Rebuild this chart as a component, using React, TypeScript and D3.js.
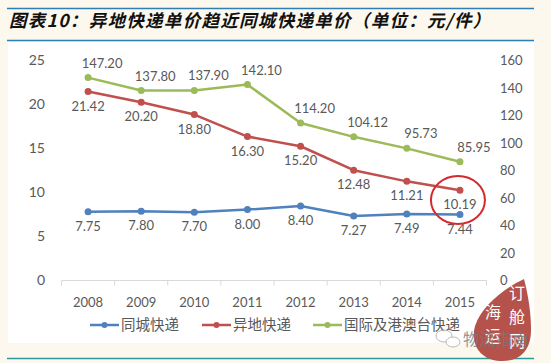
import * as d3 from "d3";

const years = ["2008", "2009", "2010", "2011", "2012", "2013", "2014", "2015"];
const sameCity = [7.75, 7.8, 7.7, 8.0, 8.4, 7.27, 7.49, 7.44];
const crossCity = [21.42, 20.2, 18.8, 16.3, 15.2, 12.48, 11.21, 10.19];
const intl = [147.2, 137.8, 137.9, 142.1, 114.2, 104.12, 95.73, 85.95];
const leftTicks = [0, 5, 10, 15, 20, 25];
const rightTicks = [0, 20, 40, 60, 80, 100, 120, 140, 160];
const seriesNames = ["同城快递", "异地快递", "国际及港澳台快递"];
const title = "图表10：异地快递单价趋近同城快递单价（单位：元/件）";
const stampRight = ["订", "舱", "网"];
const stampLeft = ["海", "运"];

const W = 551;
const H = 363;
const BLUE = "#4f81bd";
const RED = "#c0504d";
const GREEN = "#9bbb59";
const TXT = "#595959";
const numFont = "Lato, 'Open Sans', sans-serif";
const cjkFont = "'Noto Sans CJK SC', sans-serif";

export default function App() {
  const x = d3.scaleBand().domain(years).range([61.5, 486.5]);
  const yL = d3.scaleLinear().domain([0, 25]).range([280, 60]);
  const yR = d3.scaleLinear().domain([0, 160]).range([280, 60]);
  const cx = (i: number) => (x(years[i]) ?? 0) + x.bandwidth() / 2;

  const lineL = d3
    .line<number>()
    .x((_, i) => cx(i))
    .y((d) => yL(d));
  const lineR = d3
    .line<number>()
    .x((_, i) => cx(i))
    .y((d) => yR(d));

  const series = [
    { vals: sameCity, color: BLUE, path: lineL(sameCity), y: yL, dx: 0, dy: 19 },
    { vals: crossCity, color: RED, path: lineL(crossCity), y: yL, dx: 0, dy: 19 },
    { vals: intl, color: GREEN, path: lineR(intl), y: yR, dx: 14, dy: -10 },
  ];

  const legendX = [90, 202, 313];
  // seal-shaped watermark, tip at the upper right
  const stamp =
    "M524,279 C505,288 482,305 475,326 C470,344 480,360 500,361 C520,362 531,350 531,330 C531,312 528,294 524,279 Z";

  return (
    <svg width={W} height={H} style={{ position: "absolute", left: 0, top: 0 }}>
      <rect width={W} height={H} fill="#fdf8ee" />
      <line x1={7} x2={534} y1={8.5} y2={8.5} stroke="#2f7fb4" strokeWidth={1.5} />
      <line x1={7} x2={534} y1={40.5} y2={40.5} stroke="#2f7fb4" strokeWidth={1.5} />
      <text
        x={9}
        y={27}
        fontFamily={cjkFont}
        fontSize={17.5}
        fontWeight={700}
        fontStyle="italic"
        letterSpacing={1.3}
        fill="#111"
      >
        {title}
      </text>
      <rect x={8} y={42} width={526} height={301} fill="#ffffff" />
      <line x1={7} x2={534} y1={358.5} y2={358.5} stroke="#2a9a9e" strokeWidth={1.5} />

      {/* x axis baseline and ticks */}
      <line x1={61.5} x2={486.5} y1={280.5} y2={280.5} stroke="#d9d9d9" />
      {d3.range(years.length + 1).map((i) => {
        const tx = 61.5 + i * x.step();
        return <line key={i} x1={tx} x2={tx} y1={280.5} y2={285.5} stroke="#d9d9d9" />;
      })}
      {years.map((yr, i) => (
        <text key={yr} x={cx(i)} y={307} textAnchor="middle" fontFamily={numFont} fontSize={13} fill={TXT}>
          {yr}
        </text>
      ))}

      {leftTicks.map((t) => (
        <text key={t} x={45} y={yL(t) + 5} textAnchor="end" fontFamily={numFont} fontSize={14} fill={TXT}>
          {t}
        </text>
      ))}
      {rightTicks.map((t) => (
        <text key={t} x={500} y={yR(t) + 5} fontFamily={numFont} fontSize={13} fill={TXT}>
          {t}
        </text>
      ))}

      {series.map((s, si) => (
        <g key={si}>
          <path d={s.path ?? ""} fill="none" stroke={s.color} strokeWidth={2.5} strokeLinejoin="round" />
          {s.vals.map((v, i) => (
            <circle key={i} cx={cx(i)} cy={s.y(v)} r={3.5} fill={s.color} />
          ))}
          {s.vals.map((v, i) => (
            <text
              key={"t" + i}
              x={cx(i) + s.dx}
              y={s.y(v) + s.dy}
              textAnchor="middle"
              fontFamily={numFont}
              fontSize={13}
              fill={TXT}
            >
              {v.toFixed(2)}
            </text>
          ))}
        </g>
      ))}

      {/* highlight circle */}
      <ellipse cx={cx(7) - 2} cy={200} rx={27} ry={24} fill="none" stroke="#d42a2e" strokeWidth={2} />

      {/* legend */}
      {series.map((s, i) => (
        <g key={"lg" + i}>
          <line x1={legendX[i]} x2={legendX[i] + 29} y1={325} y2={325} stroke={s.color} strokeWidth={2.5} />
          <circle cx={legendX[i] + 14.5} cy={325} r={3} fill={s.color} />
          <text x={legendX[i] + 31} y={330} fontFamily={cjkFont} fontSize={14.5} fill={TXT}>
            {seriesNames[i]}
          </text>
        </g>
      ))}

      {/* watermark */}
      <path d={stamp} fill="#b5524c" />
      {stampRight.map((c, i) => (
        <text key={c} x={517} y={299 + i * 24} fontFamily={cjkFont} fontSize={16} fill="#fff" textAnchor="middle">
          {c}
        </text>
      ))}
      {stampLeft.map((c, i) => (
        <text key={c} x={493} y={318 + i * 24} fontFamily={cjkFont} fontSize={16} fill="#fff" textAnchor="middle">
          {c}
        </text>
      ))}
      <g opacity={0.8}>
        <ellipse cx={444} cy={336} rx={8} ry={6} fill="#fff" stroke="#aaa" />
        <ellipse cx={453} cy={342} rx={7} ry={5} fill="#fff" stroke="#aaa" />
        <text x={463} y={345} fontFamily={cjkFont} fontSize={16} fill="#7a7a7a" letterSpacing={0.5}>
          物流指南
        </text>
      </g>
    </svg>
  );
}
